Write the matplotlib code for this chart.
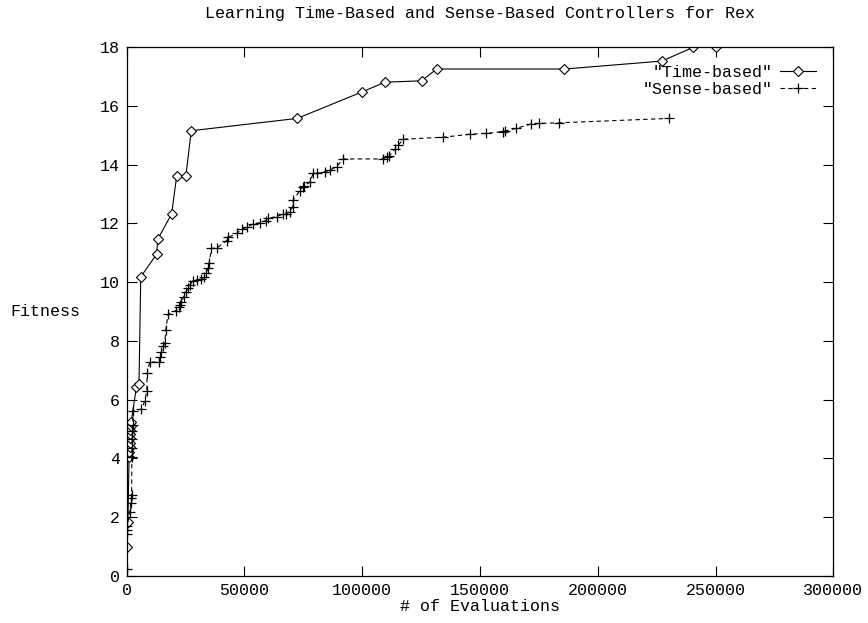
import matplotlib.pyplot as plt

# Time-based controller: (evaluations, fitness)
time_evals = [0, 500, 1000, 1100, 1200, 1300, 1400, 1500, 1600, 1700, 1900,
              4100, 5200, 5950, 12700, 13200, 19100, 21200, 25100, 27400,
              72400, 99900, 109600, 125200, 131600, 185800, 227200, 240600, 250300]
time_fit = [0.99, 1.85, 4.06, 4.23, 4.40, 4.54, 4.69, 4.83, 4.97, 5.10, 5.25,
            6.42, 6.53, 10.18, 10.95, 11.46, 12.33, 13.61, 13.61, 15.15,
            15.57, 16.47, 16.80, 16.85, 17.25, 17.25, 17.52, 17.99, 17.99]

# Sense-based controller
sense_evals = [100, 150, 200, 250, 1275, 1700, 2000, 2100, 2150, 2250, 2350, 2450, 2550,
               2680, 6250, 7650, 8500, 8700, 9770, 13730, 14020, 14750, 15430, 16150,
               16570, 17550, 20820, 22220, 22820, 23240, 24220, 25070, 26050, 26770,
               28170, 29870, 31740, 32850, 33570, 34550, 34970, 35990, 38120, 42370,
               43050, 46870, 48740, 50870, 53410, 56520, 59070, 60040, 63610, 66420,
               67560, 69260, 70410, 70670, 73510, 74660, 75210, 77760, 79170, 80860,
               84140, 86260, 89110, 91910, 108910, 110350, 111460, 113880, 115280,
               117410, 134400, 145750, 152550, 159650, 160620, 165300, 171670, 175200,
               183700, 230440]
sense_fit = [0.24, 1.43, 1.56, 1.70, 2.19, 2.47, 2.64, 2.76, 4.05, 4.35, 4.65, 4.95, 5.15,
             5.61, 5.68, 5.95, 6.29, 6.90, 7.29, 7.27, 7.46, 7.63, 7.82, 7.92,
             8.37, 8.91, 9.03, 9.14, 9.22, 9.33, 9.50, 9.67, 9.79, 9.90,
             10.04, 10.07, 10.11, 10.16, 10.30, 10.47, 10.64, 11.15, 11.15, 11.41,
             11.52, 11.66, 11.80, 11.86, 11.97, 12.02, 12.09, 12.17, 12.23, 12.32,
             12.32, 12.40, 12.54, 12.79, 13.11, 13.23, 13.27, 13.40, 13.70, 13.70,
             13.76, 13.81, 13.93, 14.19, 14.19, 14.27, 14.29, 14.53, 14.66,
             14.86, 14.93, 15.03, 15.06, 15.12, 15.14, 15.23, 15.38, 15.40,
             15.42, 15.57]

x_ticks = [0, 50000, 100000, 150000, 200000, 250000, 300000]
y_ticks = [0, 2, 4, 6, 8, 10, 12, 14, 16, 18]

plt.rcParams['font.family'] = ['Liberation Mono', 'DejaVu Sans Mono']
fs = 12

fig = plt.figure(figsize=(8.68, 6.23), dpi=100)
ax = fig.add_axes([0.146, 0.0754, 0.814, 0.8492])

ax.plot(time_evals, time_fit, color='black', linewidth=0.8, marker='D',
        markersize=5.5, markerfacecolor='white', markeredgecolor='black',
        markeredgewidth=0.8, label='"Time-based"')
ax.plot(sense_evals, sense_fit, color='black', linewidth=0.8, linestyle=(0, (4, 3)),
        marker='+', markersize=6.5, markeredgewidth=0.9, label='"Sense-based"')

ax.set_xlim(0, 300000)
ax.set_ylim(0, 18)
ax.set_xticks(x_ticks)
ax.set_yticks(y_ticks)
ax.set_xticklabels([str(t) for t in x_ticks])
ax.tick_params(direction='in', length=7, width=0.8, top=True, right=True,
               labelsize=fs, pad=5)
for s in ax.spines.values():
    s.set_linewidth(0.9)

ax.set_title('Learning Time-Based and Sense-Based Controllers for Rex',
             fontsize=fs, pad=21)
ax.set_xlabel('# of Evaluations', fontsize=fs, labelpad=1)
fig.text(0.012, 0.5, 'Fitness', fontsize=fs, ha='left', va='center')

ax.legend(loc='upper right', bbox_to_anchor=(0.99, 0.985), frameon=False,
          markerfirst=False, fontsize=fs, handlelength=2.2, handletextpad=0.4,
          labelspacing=0.12, borderaxespad=0.2)

fig.savefig('out.png', dpi=100)
